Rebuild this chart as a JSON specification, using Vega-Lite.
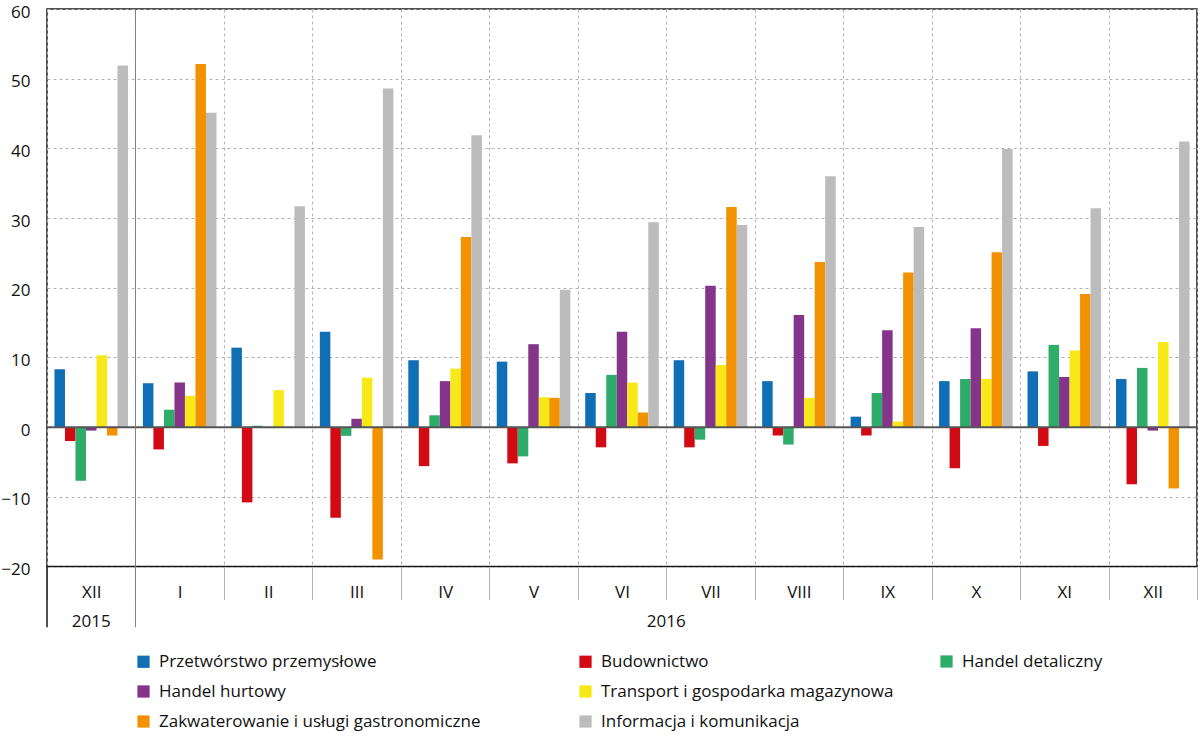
{
  "$schema": "https://vega.github.io/schema/vega-lite/v6.json",
  "width": 1150,
  "height": 557.5,
  "autosize": {"type": "none"},
  "padding": {"left": 47, "top": 9, "right": 3, "bottom": 170.5},
  "background": "white",
  "config": {
    "view": {"stroke": "#1a1a1a", "strokeWidth": 1.5},
    "font": "Open Sans",
    "axis": {"labelFont": "Open Sans", "labelFontSize": 17, "labelColor": "#111"},
    "legend": {"labelFont": "Open Sans", "labelFontSize": 17, "labelColor": "#111", "symbolType": "square", "symbolSize": 150, "symbolStrokeWidth": 0, "labelOffset": 7, "labelLimit": 500, "rowPadding": 12}
  },
  "resolve": {"scale": {"fill": "independent"}},
  "layer": [
    {
      "data": {"values": [
        {"m": "2015-XII", "s": "Przetwórstwo przemysłowe", "v": 8.3},
        {"m": "2015-XII", "s": "Budownictwo", "v": -2.0},
        {"m": "2015-XII", "s": "Handel detaliczny", "v": -7.7},
        {"m": "2015-XII", "s": "Handel hurtowy", "v": -0.5},
        {"m": "2015-XII", "s": "Transport i gospodarka magazynowa", "v": 10.3},
        {"m": "2015-XII", "s": "Zakwaterowanie i usługi gastronomiczne", "v": -1.2},
        {"m": "2015-XII", "s": "Informacja i komunikacja", "v": 51.9},
        {"m": "2016-I", "s": "Przetwórstwo przemysłowe", "v": 6.3},
        {"m": "2016-I", "s": "Budownictwo", "v": -3.2},
        {"m": "2016-I", "s": "Handel detaliczny", "v": 2.5},
        {"m": "2016-I", "s": "Handel hurtowy", "v": 6.4},
        {"m": "2016-I", "s": "Transport i gospodarka magazynowa", "v": 4.5},
        {"m": "2016-I", "s": "Zakwaterowanie i usługi gastronomiczne", "v": 52.1},
        {"m": "2016-I", "s": "Informacja i komunikacja", "v": 45.1},
        {"m": "2016-II", "s": "Przetwórstwo przemysłowe", "v": 11.4},
        {"m": "2016-II", "s": "Budownictwo", "v": -10.8},
        {"m": "2016-II", "s": "Handel detaliczny", "v": 0.2},
        {"m": "2016-II", "s": "Handel hurtowy", "v": 0},
        {"m": "2016-II", "s": "Transport i gospodarka magazynowa", "v": 5.3},
        {"m": "2016-II", "s": "Zakwaterowanie i usługi gastronomiczne", "v": 0},
        {"m": "2016-II", "s": "Informacja i komunikacja", "v": 31.7},
        {"m": "2016-III", "s": "Przetwórstwo przemysłowe", "v": 13.7},
        {"m": "2016-III", "s": "Budownictwo", "v": -13.0},
        {"m": "2016-III", "s": "Handel detaliczny", "v": -1.25},
        {"m": "2016-III", "s": "Handel hurtowy", "v": 1.2},
        {"m": "2016-III", "s": "Transport i gospodarka magazynowa", "v": 7.1},
        {"m": "2016-III", "s": "Zakwaterowanie i usługi gastronomiczne", "v": -19.0},
        {"m": "2016-III", "s": "Informacja i komunikacja", "v": 48.6},
        {"m": "2016-IV", "s": "Przetwórstwo przemysłowe", "v": 9.6},
        {"m": "2016-IV", "s": "Budownictwo", "v": -5.6},
        {"m": "2016-IV", "s": "Handel detaliczny", "v": 1.7},
        {"m": "2016-IV", "s": "Handel hurtowy", "v": 6.6},
        {"m": "2016-IV", "s": "Transport i gospodarka magazynowa", "v": 8.4},
        {"m": "2016-IV", "s": "Zakwaterowanie i usługi gastronomiczne", "v": 27.3},
        {"m": "2016-IV", "s": "Informacja i komunikacja", "v": 41.9},
        {"m": "2016-V", "s": "Przetwórstwo przemysłowe", "v": 9.4},
        {"m": "2016-V", "s": "Budownictwo", "v": -5.2},
        {"m": "2016-V", "s": "Handel detaliczny", "v": -4.2},
        {"m": "2016-V", "s": "Handel hurtowy", "v": 11.9},
        {"m": "2016-V", "s": "Transport i gospodarka magazynowa", "v": 4.3},
        {"m": "2016-V", "s": "Zakwaterowanie i usługi gastronomiczne", "v": 4.2},
        {"m": "2016-V", "s": "Informacja i komunikacja", "v": 19.7},
        {"m": "2016-VI", "s": "Przetwórstwo przemysłowe", "v": 4.9},
        {"m": "2016-VI", "s": "Budownictwo", "v": -2.9},
        {"m": "2016-VI", "s": "Handel detaliczny", "v": 7.5},
        {"m": "2016-VI", "s": "Handel hurtowy", "v": 13.7},
        {"m": "2016-VI", "s": "Transport i gospodarka magazynowa", "v": 6.4},
        {"m": "2016-VI", "s": "Zakwaterowanie i usługi gastronomiczne", "v": 2.1},
        {"m": "2016-VI", "s": "Informacja i komunikacja", "v": 29.4},
        {"m": "2016-VII", "s": "Przetwórstwo przemysłowe", "v": 9.6},
        {"m": "2016-VII", "s": "Budownictwo", "v": -2.9},
        {"m": "2016-VII", "s": "Handel detaliczny", "v": -1.8},
        {"m": "2016-VII", "s": "Handel hurtowy", "v": 20.3},
        {"m": "2016-VII", "s": "Transport i gospodarka magazynowa", "v": 8.9},
        {"m": "2016-VII", "s": "Zakwaterowanie i usługi gastronomiczne", "v": 31.6},
        {"m": "2016-VII", "s": "Informacja i komunikacja", "v": 29.0},
        {"m": "2016-VIII", "s": "Przetwórstwo przemysłowe", "v": 6.6},
        {"m": "2016-VIII", "s": "Budownictwo", "v": -1.2},
        {"m": "2016-VIII", "s": "Handel detaliczny", "v": -2.5},
        {"m": "2016-VIII", "s": "Handel hurtowy", "v": 16.1},
        {"m": "2016-VIII", "s": "Transport i gospodarka magazynowa", "v": 4.2},
        {"m": "2016-VIII", "s": "Zakwaterowanie i usługi gastronomiczne", "v": 23.7},
        {"m": "2016-VIII", "s": "Informacja i komunikacja", "v": 36.0},
        {"m": "2016-IX", "s": "Przetwórstwo przemysłowe", "v": 1.5},
        {"m": "2016-IX", "s": "Budownictwo", "v": -1.2},
        {"m": "2016-IX", "s": "Handel detaliczny", "v": 4.9},
        {"m": "2016-IX", "s": "Handel hurtowy", "v": 13.9},
        {"m": "2016-IX", "s": "Transport i gospodarka magazynowa", "v": 0.8},
        {"m": "2016-IX", "s": "Zakwaterowanie i usługi gastronomiczne", "v": 22.2},
        {"m": "2016-IX", "s": "Informacja i komunikacja", "v": 28.7},
        {"m": "2016-X", "s": "Przetwórstwo przemysłowe", "v": 6.6},
        {"m": "2016-X", "s": "Budownictwo", "v": -5.9},
        {"m": "2016-X", "s": "Handel detaliczny", "v": 6.9},
        {"m": "2016-X", "s": "Handel hurtowy", "v": 14.2},
        {"m": "2016-X", "s": "Transport i gospodarka magazynowa", "v": 6.9},
        {"m": "2016-X", "s": "Zakwaterowanie i usługi gastronomiczne", "v": 25.1},
        {"m": "2016-X", "s": "Informacja i komunikacja", "v": 39.9},
        {"m": "2016-XI", "s": "Przetwórstwo przemysłowe", "v": 8.0},
        {"m": "2016-XI", "s": "Budownictwo", "v": -2.7},
        {"m": "2016-XI", "s": "Handel detaliczny", "v": 11.8},
        {"m": "2016-XI", "s": "Handel hurtowy", "v": 7.2},
        {"m": "2016-XI", "s": "Transport i gospodarka magazynowa", "v": 11.0},
        {"m": "2016-XI", "s": "Zakwaterowanie i usługi gastronomiczne", "v": 19.1},
        {"m": "2016-XI", "s": "Informacja i komunikacja", "v": 31.4},
        {"m": "2016-XII", "s": "Przetwórstwo przemysłowe", "v": 6.9},
        {"m": "2016-XII", "s": "Budownictwo", "v": -8.2},
        {"m": "2016-XII", "s": "Handel detaliczny", "v": 8.5},
        {"m": "2016-XII", "s": "Handel hurtowy", "v": -0.5},
        {"m": "2016-XII", "s": "Transport i gospodarka magazynowa", "v": 12.2},
        {"m": "2016-XII", "s": "Zakwaterowanie i usługi gastronomiczne", "v": -8.8},
        {"m": "2016-XII", "s": "Informacja i komunikacja", "v": 41.0}
      ]},
      "mark": {"type": "bar"},
      "encoding": {
        "x": {
          "field": "m", "type": "nominal",
          "scale": {"domain": ["2015-XII","2016-I","2016-II","2016-III","2016-IV","2016-V","2016-VI","2016-VII","2016-VIII","2016-IX","2016-X","2016-XI","2016-XII"], "paddingInner": 0, "paddingOuter": 0},
          "axis": {"title": null, "tickBand": "extent", "grid": true, "gridDash": [3, 3], "gridColor": "#b4b4b4", "gridWidth": 1, "ticks": true, "tickSize": 33, "tickColor": "#b4b4b4", "domain": false, "labelAngle": 0, "labelExpr": "split(datum.label, '-')[1]", "labelPadding": -7, "labelBaseline": "middle"}
        },
        "xOffset": {
          "field": "s", "type": "nominal",
          "scale": {"domain": ["Przetwórstwo przemysłowe","Budownictwo","Handel detaliczny","Handel hurtowy","Transport i gospodarka magazynowa","Zakwaterowanie i usługi gastronomiczne","Informacja i komunikacja"], "paddingInner": 0, "paddingOuter": 0.71}
        },
        "y": {
          "field": "v", "type": "quantitative",
          "scale": {"domain": [-20, 60], "nice": false},
          "axis": {"title": null, "values": [-20, -10, 0, 10, 20, 30, 40, 50, 60], "grid": true, "gridDash": [3, 3], "gridColor": "#b4b4b4", "ticks": false, "domain": false, "labelPadding": 17, "labelOffset": 3}
        },
        "color": {
          "field": "s", "type": "nominal",
          "scale": {"domain": ["Przetwórstwo przemysłowe","Budownictwo","Handel detaliczny","Handel hurtowy","Transport i gospodarka magazynowa","Zakwaterowanie i usługi gastronomiczne","Informacja i komunikacja"], "range": ["#0f6eb4","#d20a14","#2eac6a","#843589","#f7e918","#f39200","#bcbcbc"]},
          "legend": {"title": null, "orient": "none", "legendX": 88, "legendY": 644, "direction": "horizontal", "columns": 2, "gridAlign": "each", "columnPadding": 96, "values": ["Przetwórstwo przemysłowe","Budownictwo","Handel hurtowy","Transport i gospodarka magazynowa","Zakwaterowanie i usługi gastronomiczne","Informacja i komunikacja"]}
        }
      }
    },
    {
      "data": {"values": [{"m": "2015-XII", "s": "Handel detaliczny", "v": 0}]},
      "mark": {"type": "bar", "strokeWidth": 0},
      "encoding": {
        "x": {"field": "m", "type": "nominal"},
        "xOffset": {"field": "s", "type": "nominal"},
        "y": {"field": "v", "type": "quantitative"},
        "fill": {
          "field": "s", "type": "nominal",
          "scale": {"domain": ["Handel detaliczny"], "range": ["#2eac6a"]},
          "legend": {"title": null, "orient": "none", "legendX": 891, "legendY": 644, "direction": "horizontal"}
        }
      }
    },
    {
      "data": {"values": [{}]},
      "mark": {"type": "rule", "color": "#555555", "strokeWidth": 2},
      "encoding": {"y": {"datum": 0}}
    },
    {
      "data": {"values": [{}]},
      "mark": {"type": "rule", "color": "#808080", "strokeWidth": 1},
      "encoding": {
        "x": {"datum": "2016-I", "type": "nominal", "bandPosition": 0},
        "y": {"datum": 60},
        "y2": {"datum": -28.7}
      }
    },
    {
      "data": {"values": [{}]},
      "mark": {"type": "rule", "color": "#1a1a1a", "strokeWidth": 1.5},
      "encoding": {
        "x": {"datum": "2015-XII", "type": "nominal", "bandPosition": 0},
        "y": {"datum": -20},
        "y2": {"datum": -28.7}
      }
    },
    {
      "data": {"values": [{"year": "2015"}]},
      "mark": {"type": "text", "font": "Open Sans", "fontSize": 17, "color": "#111", "baseline": "middle"},
      "encoding": {
        "x": {"datum": "2015-XII", "type": "nominal"},
        "y": {"datum": -27.9},
        "text": {"field": "year"}
      }
    },
    {
      "data": {"values": [{"year": "2016"}]},
      "mark": {"type": "text", "font": "Open Sans", "fontSize": 17, "color": "#111", "baseline": "middle"},
      "encoding": {
        "x": {"datum": "2016-VII", "type": "nominal", "bandPosition": 0},
        "y": {"datum": -27.9},
        "text": {"field": "year"}
      }
    }
  ]
}
